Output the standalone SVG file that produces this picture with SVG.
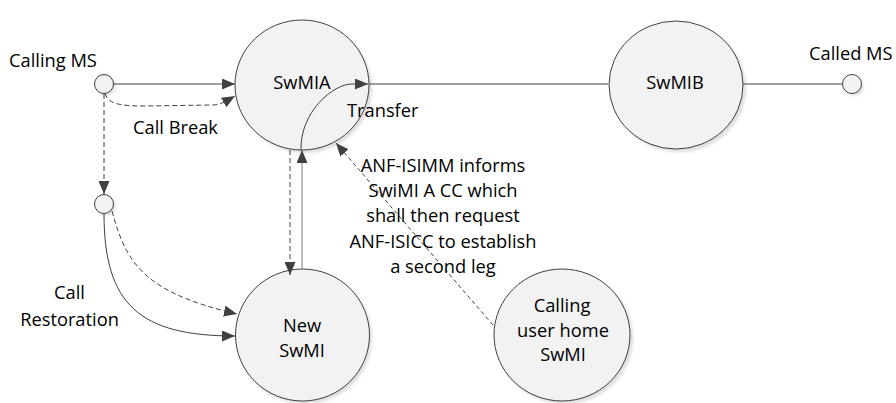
<svg xmlns="http://www.w3.org/2000/svg" width="896" height="403" viewBox="0 0 896 403">
<defs>
<style>
.node{fill:#f2f2f2;stroke:#404040;stroke-width:1}
.shadow{fill:#c8c8c8;opacity:0.6;filter:url(#blur)}
.t{font-family:"Open Sans","Liberation Sans",sans-serif;font-size:18.3px;fill:#000}
.c{text-anchor:middle}
.ln{fill:none;stroke:#404040;stroke-width:1}
.dash{stroke-dasharray:5 3}
.arr{marker-end:url(#ah)}
</style>
<filter id="blur" x="-20%" y="-20%" width="140%" height="140%"><feGaussianBlur stdDeviation="1.5"/></filter>
<marker id="ah" markerWidth="13" markerHeight="11" refX="13" refY="5.5" orient="auto" markerUnits="userSpaceOnUse"><path d="M0,0 L13,5.5 L0,11 z" fill="#404040"/></marker>
</defs>
<rect width="896" height="403" fill="#fff"/>

<g id="callingMS">
<circle class="shadow" cx="106" cy="86" r="9.5"/>
<circle class="node" cx="104" cy="84" r="9.5"/>
<text class="t" x="9" y="67">Calling MS</text>
</g>
<g id="restorePoint">
<circle class="shadow" cx="106" cy="206" r="9.5"/>
<circle class="node" cx="104" cy="204" r="9.5"/>
</g>
<g id="calledMS">
<circle class="shadow" cx="854" cy="86" r="9.5"/>
<circle class="node" cx="852" cy="84" r="9.5"/>
<text class="t" x="809" y="60">Called MS</text>
</g>

<g id="SwMIA">
<ellipse class="shadow" cx="305" cy="88" rx="67" ry="65"/>
<ellipse class="node" cx="302" cy="85" rx="67" ry="65"/>
<text class="t c" x="302" y="89">SwMIA</text>
</g>
<g id="SwMIB">
<ellipse class="shadow" cx="679" cy="88" rx="67" ry="64"/>
<ellipse class="node" cx="676" cy="85" rx="67" ry="64"/>
<text class="t c" x="675" y="89">SwMIB</text>
</g>
<g id="NewSwMI">
<ellipse class="shadow" cx="305" cy="338" rx="67" ry="66"/>
<ellipse class="node" cx="302.5" cy="335" rx="67" ry="66"/>
<text class="t c" x="302" y="332">New</text>
<text class="t c" x="302" y="357">SwMI</text>
</g>
<g id="CallingUserHome">
<ellipse class="shadow" cx="565" cy="338" rx="68" ry="66"/>
<ellipse class="node" cx="562" cy="335" rx="68" ry="66"/>
<text class="t c" x="562" y="312">Calling</text>
<text class="t c" x="563" y="337">user home</text>
<text class="t c" x="563" y="361">SwMI</text>
</g>

<g id="connectors">
<path class="ln arr" d="M113.5,84 L235,84"/>
<path class="ln dash arr" d="M105,93.5 C108,104 120,106 145,106 L212,105 C222,105 228,100 235,96"/>
<path class="ln dash arr" d="M104,94 L104,194"/>
<path class="ln arr" d="M104,213.5 C104,305 140,336 235,336"/>
<path class="ln dash arr" d="M112,211 C126,262 142,292 237,314"/>
<path class="ln dash arr" d="M290,150 L290,275"/>
<path class="ln arr" style="stroke:#7a7a7a" d="M302,269 L302,150"/>
<path class="ln arr" d="M301,150 C300,112 333,84 352,84 L368,84"/>
<path class="ln" d="M369,84 L608,84"/>
<path class="ln" d="M743,84 L842,84"/>
<path class="ln dash arr" style="stroke-dasharray:4 3" d="M493,325 L336,143"/>
</g>

<g id="labels">
<text class="t" x="133" y="134">Call Break</text>
<text class="t" x="347" y="117">Transfer</text>
<text class="t c" x="69.5" y="299">Call</text>
<text class="t c" x="69.5" y="326">Restoration</text>
<text class="t c" x="443" y="172">ANF-ISIMM informs</text>
<text class="t c" x="443" y="197">SwiMI A CC which</text>
<text class="t c" x="443" y="222">shall then request</text>
<text class="t c" x="443" y="248">ANF-ISICC to establish</text>
<text class="t c" x="443" y="273">a second leg</text>
</g>
</svg>
